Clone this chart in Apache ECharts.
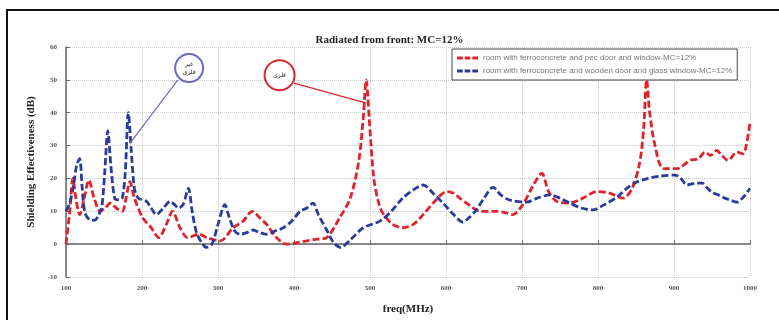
<!DOCTYPE html>
<html>
<head>
<meta charset="utf-8">
<title>Radiated from front: MC=12%</title>
<style>
  html, body { margin: 0; padding: 0; background: #fff; }
  #chart { width: 779px; height: 320px; }
</style>
<script src="https://cdn.jsdelivr.net/npm/echarts@6/dist/echarts.min.js"></script>
</head>
<body>
<div id="chart"></div>
<script>
// values (freq in MHz, SE in dB)
const pecFreq = [100, 105, 109, 113, 118, 124, 130, 137, 145, 152, 158, 166, 174, 179, 184, 190, 201, 212, 222, 232, 240, 250, 260, 275, 285, 303, 320, 333, 345, 355, 364, 377, 390, 405, 417, 430, 443, 460, 474, 485, 491, 495, 499, 505, 512, 518, 530, 543, 557, 570, 585, 601, 610, 618, 630, 645, 655, 667, 680, 688, 701, 715, 726, 735, 746, 763, 780, 799, 815, 833, 845, 855, 860, 864, 868, 875, 886, 904, 921, 932, 941, 948, 956, 963, 971, 983, 991, 995, 1000]
const pecSE = [0, 10, 20, 14, 9, 14, 19.5, 14, 10, 11, 12.5, 11, 10, 14, 19, 14, 8, 5, 2, 6, 10, 5, 2, 3, 2, 1, 5, 7, 10, 8, 6, 2, 0, 0.5, 1, 1.5, 2, 8, 14, 25, 38, 50, 38, 20, 12, 9, 6, 5, 6, 9, 13, 16, 15.5, 14, 12, 10, 10, 10, 9.5, 9, 12, 18, 21.5, 16, 13, 12.5, 14, 16, 15.5, 14, 17, 25, 35, 50, 40, 30, 23, 23, 25.5, 26, 28, 27, 28.5, 27, 25.5, 28, 27.5, 30, 37]

const woodFreq = [100, 105, 110, 114, 118, 121, 125, 131, 138, 143, 147, 151, 155, 159, 164, 169, 174, 178, 182, 186, 190, 195, 206, 212, 219, 228, 237, 243, 248, 254, 261, 266, 272, 280, 285, 292, 300, 309, 315, 322, 329, 338, 346, 355, 364, 375, 386, 397, 408, 417, 425, 432, 443, 452, 461, 475, 491, 513, 528, 543, 557, 570, 583, 596, 610, 622, 630, 640, 650, 662, 672, 684, 706, 720, 737, 750, 763, 778, 793, 808, 825, 838, 851, 866, 882, 901, 909, 917, 927, 937, 944, 950, 958, 967, 975, 983, 992, 1000]
const woodSE = [10, 12.5, 18, 24, 26, 18, 9.5, 7.5, 7.3, 9, 11, 22, 34.5, 24, 14, 13.5, 14, 22, 40, 28, 17, 14, 13, 11, 9, 11, 13, 12, 11, 12, 17, 10, 3.3, 0, -1, 0, 6, 12, 8, 4, 3, 3.5, 4.3, 3.5, 3, 4, 5, 7, 10, 11, 12.5, 9, 4.3, 0.5, -1, 1.5, 5, 7, 10, 14, 16.5, 18, 15.5, 12.5, 9, 6.7, 8, 10.4, 14, 17.3, 15, 13.4, 12.8, 14, 15, 14, 12.5, 11, 10.4, 12, 14.3, 17, 18.9, 20, 20.7, 21, 20, 18, 18.5, 18.6, 17, 15.8, 15, 14, 13.3, 12.8, 14.5, 17]

const seriesNames = [
  'room with ferroconcrete and pec door and window-MC=12%',
  'room with ferroconcrete and wooden door and glass window-MC=12%'
]

// callouts, in data coordinates: [freq, dB]
const woodCircle = [262, 53.6]
const woodPointer = [[247, 49.9], [184, 30.7]]
const pecCircle = [381, 51.4]
const pecPointer = [[400, 49], [495, 42.9]]

const RED = '#e0222c'
const BLUE = '#2b3b9c'
const serif = 'Liberation Serif'
// three dashes, used as the legend key
const DASH_ICON = 'path://M0,0h6v3h-6z M8,0h6v3h-6z M16,0h6v3h-6z'

const pairs = (xs, ys) => xs.map((x, i) => [x, ys[i]])

const tickLabel = {
  fontFamily: serif,
  fontWeight: 'bold',
  fontSize: 7,
  color: '#555'
}

const callout = (center, pointer, text, color, size) => ({
  markPoint: {
    silent: true,
    symbol: 'circle',
    symbolSize: size,
    itemStyle: { color: '#fff', borderColor: color, borderWidth: 2 },
    label: {
      show: true,
      position: 'inside',
      formatter: text,
      fontFamily: 'DejaVu Sans',
      fontSize: 6,
      lineHeight: 8,
      color: '#222'
    },
    data: [{ coord: center }]
  },
  markLine: {
    silent: true,
    symbol: ['none', 'none'],
    label: { show: false },
    lineStyle: { color: color, type: 'solid', width: 1.2 },
    data: [[{ coord: pointer[0] }, { coord: pointer[1] }]]
  }
})

const chart = echarts.init(document.getElementById('chart'))

chart.setOption({
  animation: false,
  backgroundColor: '#fff',
  title: {
    text: 'Radiated from front: MC=12%',
    left: 'center',
    top: 30,
    textStyle: { fontFamily: serif, fontWeight: 'bold', fontSize: 11, color: '#222' }
  },
  graphic: [{
    type: 'rect',
    z: -1,
    shape: { x: 7, y: 10, width: 800, height: 340 },
    style: { fill: 'none', stroke: '#111', lineWidth: 2 }
  }],
  legend: {
    orient: 'vertical',
    left: 452,
    top: 49,
    padding: [4, 5, 4, 5],
    itemGap: 3,
    itemWidth: 21,
    itemHeight: 3,
    icon: DASH_ICON,
    backgroundColor: '#fff',
    borderColor: '#444',
    borderWidth: 1,
    textStyle: { fontFamily: 'Liberation Sans', fontSize: 8, color: '#777', lineHeight: 10 },
    data: seriesNames
  },
  grid: { left: 66, right: 29, top: 47, bottom: 43 },
  xAxis: {
    type: 'value',
    min: 100,
    max: 1000,
    interval: 100,
    name: 'freq(MHz)',
    nameLocation: 'middle',
    nameGap: 27,
    nameTextStyle: { fontFamily: serif, fontWeight: 'bold', fontSize: 11, color: '#222' },
    axisLine: { lineStyle: { color: '#666', width: 1.5 } },
    axisTick: { inside: true, length: 4, lineStyle: { color: '#666' } },
    axisLabel: { ...tickLabel, margin: 8, formatter: (v) => String(v) },
    splitLine: { lineStyle: { color: '#cacaca', type: 'dotted' } }
  },
  yAxis: {
    type: 'value',
    min: -10,
    max: 60,
    interval: 10,
    name: 'Shielding Effectiveness (dB)',
    nameLocation: 'middle',
    nameGap: 24,
    nameTextStyle: { fontFamily: serif, fontWeight: 'bold', fontSize: 11, color: '#222' },
    axisLine: { show: true, lineStyle: { color: '#666', width: 1.5 } },
    axisTick: { show: true, inside: true, length: 4, lineStyle: { color: '#666' } },
    axisLabel: { ...tickLabel, margin: 9 },
    splitLine: { lineStyle: { color: '#cacaca', type: 'dotted' } }
  },
  series: [
    {
      name: seriesNames[0],
      type: 'line',
      symbol: 'none',
      smooth: 0.3,
      color: RED,
      lineStyle: { width: 2.8, type: [7, 3] },
      data: pairs(pecFreq, pecSE),
      ...callout(pecCircle, pecPointer, 'فلزی', '#d9262c', 30)
    },
    {
      name: seriesNames[1],
      type: 'line',
      symbol: 'none',
      smooth: 0.3,
      color: BLUE,
      lineStyle: { width: 2.8, type: [7, 3] },
      data: pairs(woodFreq, woodSE),
      ...callout(woodCircle, woodPointer, 'غیر\nفلزی', '#6a6ac6', 28)
    }
  ]
})
</script>
</body>
</html>
